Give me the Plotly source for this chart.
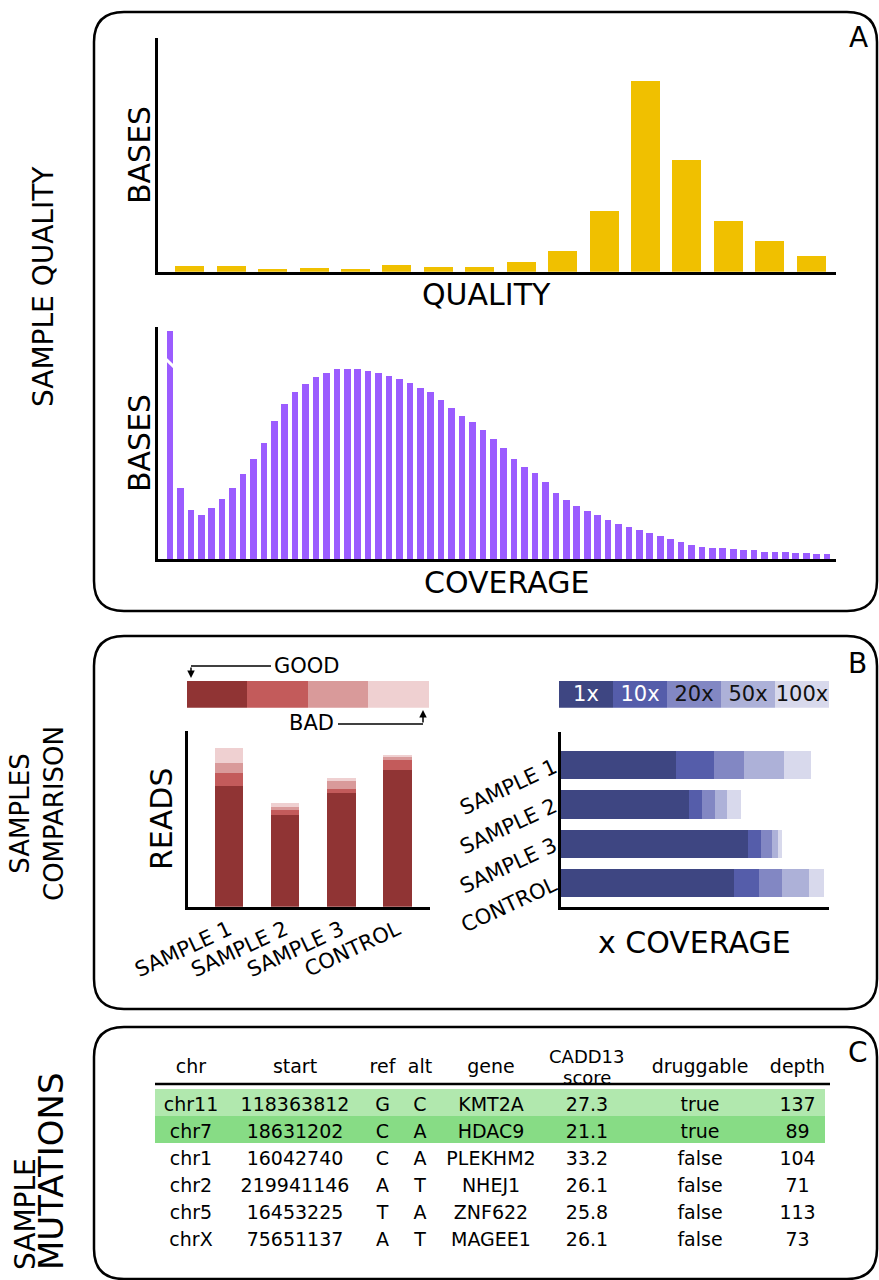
import plotly.graph_objects as go

W, H = 879, 1280
FONT = "DejaVu Sans"

# ---------------- data ----------------
quality_bins = list(range(16))
quality_bases = [6, 5.3, 3, 3.7, 2.7, 6.7, 5, 4.3, 9.7, 20.7, 61, 191, 112, 51, 31, 15.7]

coverage_bins = list(range(64))
coverage_bases = [228, 71, 49, 44, 51.5, 60, 71, 85, 100, 116, 138, 155, 167, 175, 182, 186.5,
                  190, 190.3, 190, 188.3, 186, 183.5, 180.3, 176.3, 171.5, 167, 159, 151, 143,
                  137.3, 129, 120.3, 111.3, 100.3, 92.5, 86.3, 77.3, 66.6, 59.3, 53.2, 48, 44.3,
                  39.6, 35.2, 31.8, 29.2, 26.3, 23.5, 20.3, 17, 14.3, 12.3, 11.3, 11, 9.8, 8.8,
                  8.8, 7.5, 7, 6.8, 6.5, 6, 5.5, 5.2]

samples = ["SAMPLE 1", "SAMPLE 2", "SAMPLE 3", "CONTROL"]
read_levels = ["GOOD", "FAIR", "POOR", "BAD"]
reads_good = [120.7, 91.7, 113.3, 136.7]
reads_fair = [13.3, 5.0, 4.0, 10.0]
reads_poor = [10.0, 2.7, 8.7, 3.0]
reads_bad = [14.7, 4.3, 3.0, 2.0]

coverage_levels = ["1x", "10x", "20x", "50x", "100x"]
cov_1x = [115, 128.3, 186.7, 172.7]
cov_10x = [38.3, 12.7, 13, 25]
cov_20x = [30, 12.7, 11.3, 23.7]
cov_50x = [39.3, 12.3, 5.7, 26.3]
cov_100x = [27.3, 13.7, 4, 15]

table_header = ["chr", "start", "ref", "alt", "gene", "CADD13<br>score", "druggable", "depth"]
col_chr = ["chr11", "chr7", "chr1", "chr2", "chr5", "chrX"]
col_start = ["118363812", "18631202", "16042740", "219941146", "16453225", "75651137"]
col_ref = ["G", "C", "C", "A", "T", "A"]
col_alt = ["C", "A", "A", "T", "A", "T"]
col_gene = ["KMT2A", "HDAC9", "PLEKHM2", "NHEJ1", "ZNF622", "MAGEE1"]
col_cadd = ["27.3", "21.1", "33.2", "26.1", "25.8", "26.1"]
col_drug = ["true", "true", "false", "false", "false", "false"]
col_depth = ["137", "89", "104", "71", "113", "73"]

# ---------------- styles ----------------
YELLOW = "#f0c000"
PURPLE = "#9b5cff"
REDS = ["#903434", "#c35b5b", "#d99a9a", "#efd0d1"]
BLUES = ["#3e4682", "#555daa", "#8287c3", "#adb1d8", "#d8d9ec"]
BLUE_TXT = ["white", "white", "#111111", "#111111", "#111111"]
ROW_FILL = ["#b1e8ae", "#87dc85", "white", "white", "white", "white"]
COL_W = [72, 136, 39, 36, 106, 86, 140, 55]
TABLE_X0, TABLE_X1 = 155, 825


def px(x):
    return x / W


def py(y):
    return 1 - y / H


fig = go.Figure()

# Panel A
fig.add_trace(go.Bar(x=quality_bins, y=quality_bases, marker=dict(color=YELLOW, line_width=0),
                     width=0.7, xaxis="x", yaxis="y", showlegend=False))
fig.add_trace(go.Bar(x=coverage_bins, y=coverage_bases, marker=dict(color=PURPLE, line_width=0),
                     width=0.64, xaxis="x2", yaxis="y2", showlegend=False))

# Panel B - reads
for vals, col in zip([reads_good, reads_fair, reads_poor, reads_bad], REDS):
    fig.add_trace(go.Bar(x=samples, y=vals, marker=dict(color=col, line_width=0), width=0.51,
                         xaxis="x3", yaxis="y3", showlegend=False))
# reads colour key
for lvl, col in zip(read_levels, REDS):
    fig.add_trace(go.Bar(x=[1], y=[0], orientation="h", marker=dict(color=col, line_width=0),
                         width=1, xaxis="x5", yaxis="y5", showlegend=False, name=lvl))

# Panel B - coverage
for vals, col in zip([cov_1x, cov_10x, cov_20x, cov_50x, cov_100x], BLUES):
    fig.add_trace(go.Bar(x=vals, y=samples, orientation="h", marker=dict(color=col, line_width=0),
                         width=0.72, xaxis="x4", yaxis="y4", showlegend=False))
for lvl, col, tc in zip(coverage_levels, BLUES, BLUE_TXT):
    fig.add_trace(go.Bar(x=[1], y=[0], orientation="h", marker=dict(color=col, line_width=0),
                         width=1, xaxis="x6", yaxis="y6", showlegend=False, text=[lvl],
                         textposition="inside", insidetextanchor="middle",
                         textfont=dict(color=tc, size=21, family=FONT), name=lvl))

# Panel C - table (multi-line header labels are drawn as annotations below)
header_cells = [h if "<br>" not in h else "" for h in table_header]
fig.add_trace(go.Table(
    domain=dict(x=[px(TABLE_X0), px(TABLE_X1)], y=[py(1275), py(1051)]),
    columnwidth=COL_W,
    header=dict(values=header_cells, height=38, fill_color="white",
                line=dict(width=0, color="white"), align="center",
                font=dict(size=19, color="black", family=FONT)),
    cells=dict(values=[col_chr, col_start, col_ref, col_alt, col_gene, col_cadd, col_drug, col_depth],
               height=27, fill_color=[ROW_FILL] * 8, line=dict(width=0, color="white"),
               align="center", font=dict(size=19, color="black", family=FONT)),
))

axis_common = dict(showgrid=False, zeroline=False, showticklabels=False, ticks="",
                   showline=True, linecolor="black", linewidth=2.5, fixedrange=True,
                   automargin=False)
hidden = dict(showgrid=False, zeroline=False, showticklabels=False, ticks="", showline=False,
              fixedrange=True, automargin=False)

fig.update_layout(
    template="none",
    width=W, height=H, margin=dict(l=0, r=0, t=0, b=0, pad=0, autoexpand=False),
    paper_bgcolor="white", plot_bgcolor="rgba(0,0,0,0)",
    barmode="stack", showlegend=False,
    font=dict(family=FONT, color="black"),
    uniformtext=dict(minsize=21, mode="show"),
    xaxis=dict(axis_common, domain=[px(158), px(836)], range=[-0.77, 15.6], anchor="y"),
    yaxis=dict(axis_common, domain=[py(271.7), py(38)], range=[0, 233.7], anchor="x"),
    xaxis2=dict(axis_common, domain=[px(158), px(836)], range=[-1.15, 63.86], anchor="y2"),
    yaxis2=dict(axis_common, domain=[py(559.3), py(327)], range=[0, 232], anchor="x2"),
    xaxis3=dict(axis_common, domain=[px(188), px(430)], range=[-0.73, 3.58], anchor="y3",
                type="category", showticklabels=True, tickangle=-25,
                tickfont=dict(size=21, family=FONT, color="black")),
    yaxis3=dict(axis_common, domain=[py(906.7), py(731)], range=[0, 175.7], anchor="x3"),
    xaxis4=dict(axis_common, domain=[px(561), px(829.3)], range=[0, 268.3], anchor="y4"),
    yaxis4=dict(axis_common, domain=[py(906.7), py(731.7)], range=[3.6, -0.85], anchor="x4",
                type="category", showticklabels=True, tickangle=-25,
                tickfont=dict(size=21, family=FONT, color="black")),
    xaxis5=dict(hidden, domain=[px(186.7), px(429)], range=[0, 4], anchor="y5"),
    yaxis5=dict(hidden, domain=[py(707.7), py(680.7)], range=[-0.5, 0.5], anchor="x5"),
    xaxis6=dict(hidden, domain=[px(559), px(829)], range=[0, 5], anchor="y6"),
    yaxis6=dict(hidden, domain=[py(707.7), py(680.7)], range=[-0.5, 0.5], anchor="x6"),
)


def rrect(x0, y0, x1, y1, r):
    pts = [
        ("M", [(x0 + r, y0)]),
        ("L", [(x1 - r, y0)]),
        ("Q", [(x1, y0), (x1, y0 + r)]),
        ("L", [(x1, y1 - r)]),
        ("Q", [(x1, y1), (x1 - r, y1)]),
        ("L", [(x0 + r, y1)]),
        ("Q", [(x0, y1), (x0, y1 - r)]),
        ("L", [(x0, y0 + r)]),
        ("Q", [(x0, y0), (x0 + r, y0)]),
    ]
    s = ""
    for cmd, ps in pts:
        s += cmd + " " + " ".join(f"{px(a):.5f},{py(b):.5f}" for a, b in ps) + " "
    return s + "Z"


shapes = []
for box in [(94, 12, 877, 611), (94, 636, 877, 1009), (94, 1027, 877, 1279)]:
    shapes.append(dict(type="path", xref="paper", yref="paper", path=rrect(*box, 30),
                       line=dict(color="black", width=2.5), fillcolor="rgba(0,0,0,0)"))
# table header rule
shapes.append(dict(type="line", xref="paper", yref="paper", x0=px(155), x1=px(830),
                   y0=py(1084), y1=py(1084), line=dict(color="black", width=2.5)))
# GOOD / BAD key leaders
shapes.append(dict(type="line", xref="paper", yref="paper", x0=px(271), x1=px(191),
                   y0=py(666), y1=py(666), line=dict(color="black", width=1.5)))
shapes.append(dict(type="line", xref="paper", yref="paper", x0=px(338), x1=px(423),
                   y0=py(724), y1=py(724), line=dict(color="black", width=1.5)))
# axis-break mark on the first coverage bar
shapes.append(dict(type="line", xref="x2", yref="y2", x0=-0.5, x1=0.5,
                   y0=coverage_bases[0] - 27, y1=coverage_bases[0] - 37,
                   line=dict(color="white", width=3)))
fig.update_layout(shapes=shapes)


def txt(x, y, text, size, angle=0, **kw):
    return dict(x=px(x), y=py(y), xref="paper", yref="paper", text=text, showarrow=False,
                textangle=angle, font=dict(size=size, family=FONT, color="black"),
                xanchor="center", yanchor="middle", **kw)


ann = [
    txt(43, 287, "SAMPLE QUALITY", 28, -90),
    txt(37, 814, "SAMPLES<br>COMPARISON", 26, -90),
    txt(25, 1214, "SAMPLE", 28, -90),
    txt(51, 1171, "MUTATIONS", 34, -90),
    txt(858, 38, "A", 28),
    txt(857, 663, "B", 28),
    txt(858, 1052, "C", 28),
    txt(139, 155, "BASES", 30, -90),
    txt(486, 294, "QUALITY", 30),
    txt(139, 443, "BASES", 30, -90),
    txt(506, 582, "COVERAGE", 30),
    txt(161, 819, "READS", 30, -90),
    txt(694, 942, "x COVERAGE", 30),
    txt(307, 666, "GOOD", 21),
    txt(311, 723, "BAD", 21),
    dict(x=px(191), y=py(678), xref="paper", yref="paper", text="", showarrow=True,
         ax=0, ay=-12, arrowhead=2, arrowsize=1, arrowwidth=1.5, arrowcolor="black"),
    dict(x=px(423), y=py(710), xref="paper", yref="paper", text="", showarrow=True,
         ax=0, ay=14, arrowhead=2, arrowsize=1, arrowwidth=1.5, arrowcolor="black"),
]
# multi-line table header labels, centred on their table column
for i, h in enumerate(table_header):
    if "<br>" in h:
        cx = TABLE_X0 + (TABLE_X1 - TABLE_X0) * (sum(COL_W[:i]) + COL_W[i] / 2) / sum(COL_W)
        for j, part in enumerate(h.split("<br>")):
            ann.append(txt(cx, 1056 + 21 * j, part, 18))
fig.update_layout(annotations=ann)

fig.write_html("out.html", config={"displayModeBar": False},
               post_script="document.body.style.margin='0';")
